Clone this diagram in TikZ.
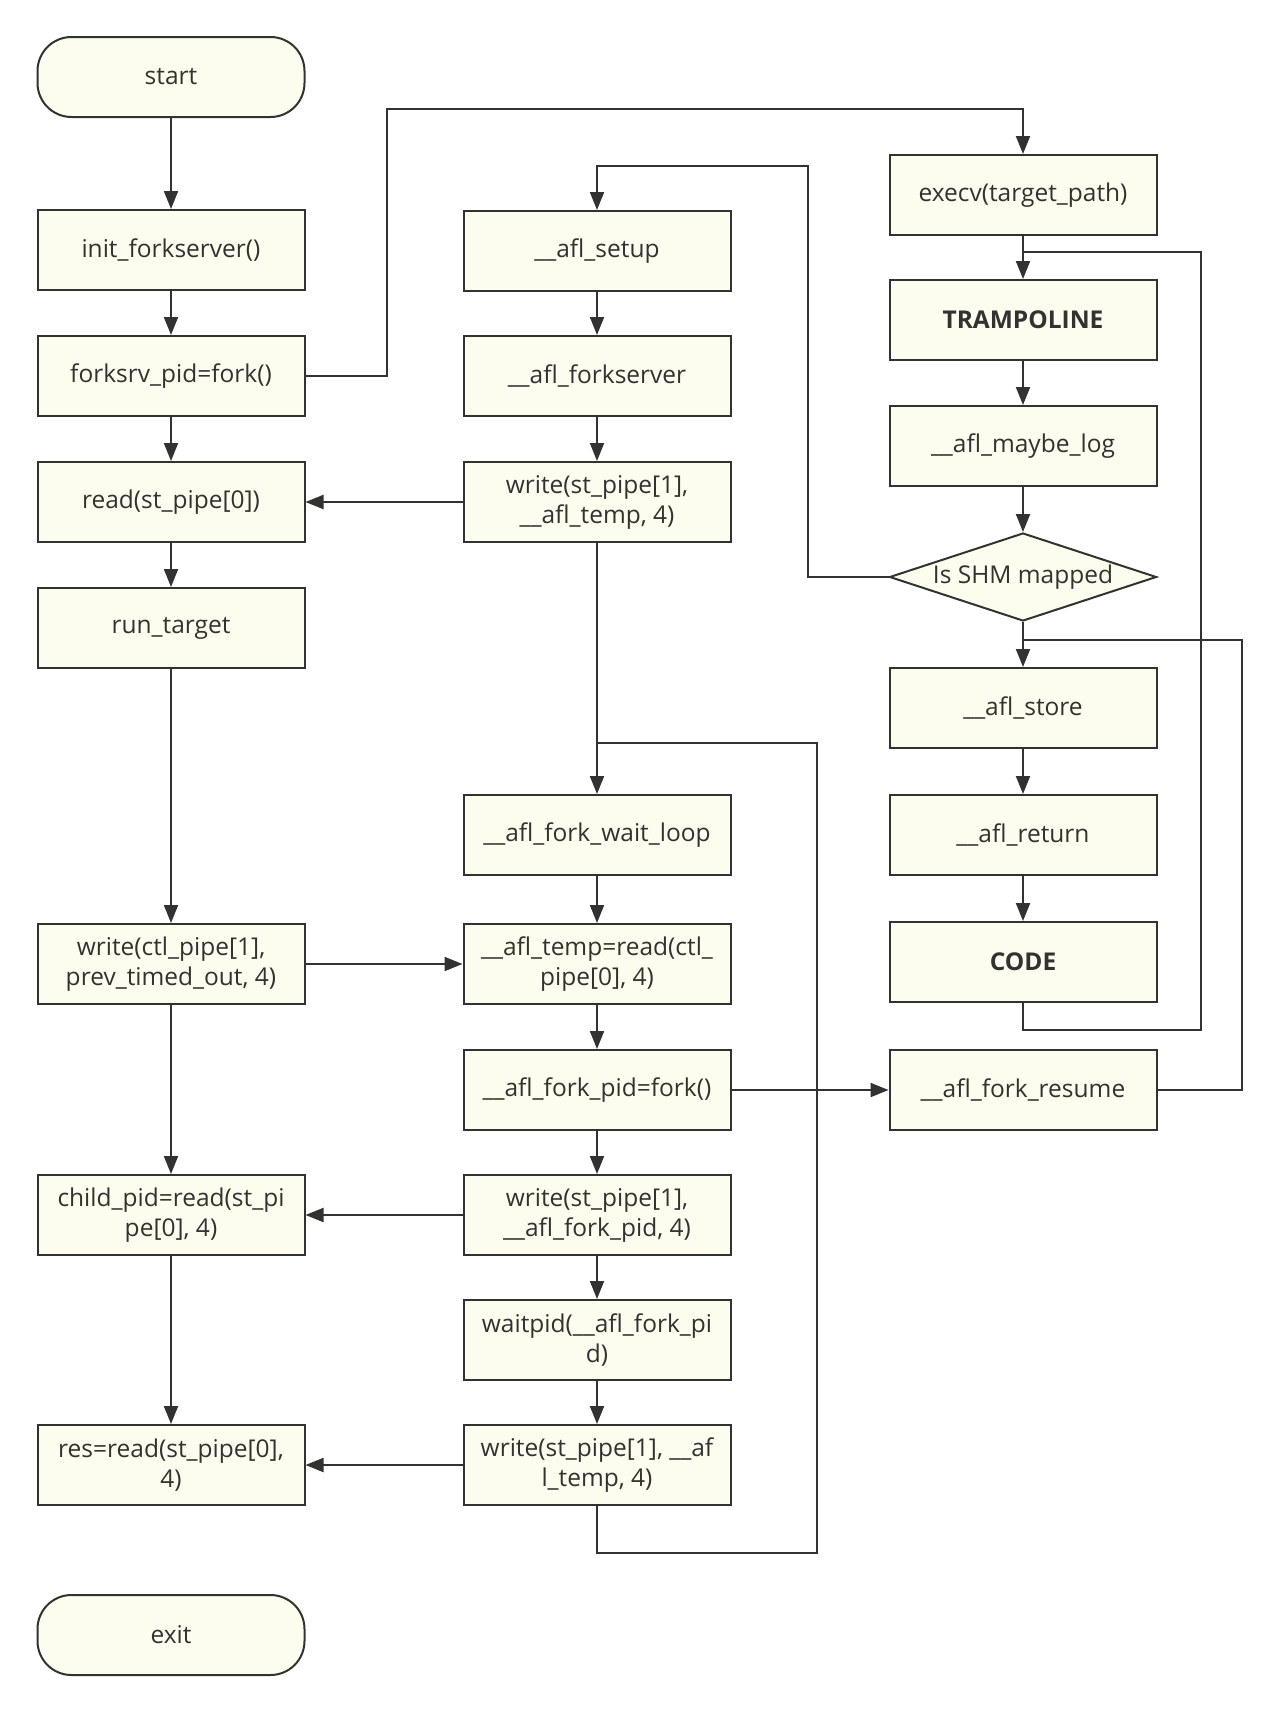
\documentclass[tikz,border=0pt]{standalone}
\usepackage{fontspec}
\setmainfont{Open Sans}
\usetikzlibrary{arrows.meta,shapes.geometric}
\definecolor{boxfill}{RGB}{253,253,239}
\definecolor{ink}{RGB}{50,50,48}
\tikzset{
  base/.style={draw=ink, line width=2pt, fill=boxfill, text=ink, minimum width=267pt, minimum height=80pt, inner sep=2pt, align=center, font=\fontsize{24.5}{30}\selectfont},
  proc/.style={base, rectangle},
  term/.style={base, rectangle, rounded corners=34pt},
  dec/.style={draw=ink, line width=2pt, fill=boxfill, diamond, aspect=3, minimum width=267pt, minimum height=88pt, inner sep=0pt},
  lbl/.style={text=ink, font=\fontsize{24.5}{30}\selectfont},
  conn/.style={draw=ink, line width=2pt},
  arr/.style={conn, -{Triangle[length=18pt,width=14pt]}},
}
\begin{document}
\begin{tikzpicture}[x=1pt,y=-1pt]
\useasboundingbox (0,0) rectangle (1279,1713);
% left column
\node[term] (start) at (171,77) {start};
\node[proc] (init) at (171,250) {init\_forkserver()};
\node[proc] (forksrv) at (171,376) {forksrv\_pid=fork()};
\node[proc] (read) at (171,502) {read(st\_pipe[0])};
\node[proc] (run) at (171,628) {run\_target};
\node[proc] (ctl) at (171,964) {write(ctl\_pipe[1],\\prev\_timed\_out, 4)};
\node[proc] (child) at (171,1215) {child\_pid=read(st\_pi\\pe[0], 4)};
\node[proc] (res) at (171,1465) {res=read(st\_pipe[0],\\4)};
\node[term] (exit) at (171,1635) {exit};
% middle column
\node[proc] (setup) at (597,251) {\_\_afl\_setup};
\node[proc] (fsrv) at (597,376) {\_\_afl\_forkserver};
\node[proc] (writeA) at (597,502) {write(st\_pipe[1],\\\_\_afl\_temp, 4)};
\node[proc] (wait) at (597,835) {\_\_afl\_fork\_wait\_loop};
\node[proc] (tread) at (597,964) {\_\_afl\_temp=read(ctl\_\\pipe[0], 4)};
\node[proc] (fpid) at (597,1090) {\_\_afl\_fork\_pid=fork()};
\node[proc] (writeB) at (597,1215) {write(st\_pipe[1],\\\_\_afl\_fork\_pid, 4)};
\node[proc] (wpid) at (597,1340) {waitpid(\_\_afl\_fork\_pi\\d)};
\node[proc] (writeC) at (597,1465) {write(st\_pipe[1], \_\_af\\l\_temp, 4)};
% right column
\node[proc] (execv) at (1023,195) {execv(target\_path)};
\node[proc] (tramp) at (1023,320) {\textbf{TRAMPOLINE}};
\node[proc] (mlog) at (1023,446) {\_\_afl\_maybe\_log};
\node[dec] (dia) at (1023,577) {};
\node[lbl] (dialbl) at (dia) {Is SHM mapped};
\node[proc] (store) at (1023,708) {\_\_afl\_store};
\node[proc] (ret) at (1023,835) {\_\_afl\_return};
\node[proc] (code) at (1023,962) {\textbf{CODE}};
\node[proc] (resume) at (1023,1090) {\_\_afl\_fork\_resume};
% bend points
\coordinate (k1) at (387,109);
\coordinate (k2) at (808,166);
\coordinate (k3) at (817,1553);
\coordinate (k4) at (597,743);
\coordinate (k5) at (1201,1030);
\coordinate (k6) at (1023,252);
\coordinate (k7) at (1242,640);
\coordinate (k8) at (1023,640);
% left column flow
\draw[arr] (start) -- (init);
\draw[arr] (init) -- (forksrv);
\draw[arr] (forksrv) -- (read);
\draw[arr] (read) -- (run);
\draw[arr] (run) -- (ctl);
\draw[arr] (ctl) -- (child);
\draw[arr] (child) -- (res);
% middle column flow
\draw[arr] (setup) -- (fsrv);
\draw[arr] (fsrv) -- (writeA);
\draw[arr] (writeA) -- (wait);
\draw[arr] (wait) -- (tread);
\draw[arr] (tread) -- (fpid);
\draw[arr] (fpid) -- (writeB);
\draw[arr] (writeB) -- (wpid);
\draw[arr] (wpid) -- (writeC);
% right column flow
\draw[arr] (execv) -- (tramp);
\draw[arr] (tramp) -- (mlog);
\draw[arr] (mlog) -- (dia);
\draw[arr] (dia) -- (store);
\draw[arr] (store) -- (ret);
\draw[arr] (ret) -- (code);
% cross links
\draw[arr] (forksrv.east) -| (k1) -| (execv.north);
\draw[arr] (dia.west) -| (k2) -| (setup.north);
\draw[arr] (writeA.west) -- (read.east);
\draw[arr] (ctl.east) -- (tread.west);
\draw[arr] (writeB.west) -- (child.east);
\draw[arr] (writeC.west) -- (res.east);
\draw[arr] (fpid.east) -- (resume.west);
% loops
\draw[conn] (writeC.south) |- (k3) |- (k4);
\draw[conn] (code.south) |- (k5) |- (k6);
\draw[conn] (resume.east) -| (k7) -- (k8);
\end{tikzpicture}
\end{document}
